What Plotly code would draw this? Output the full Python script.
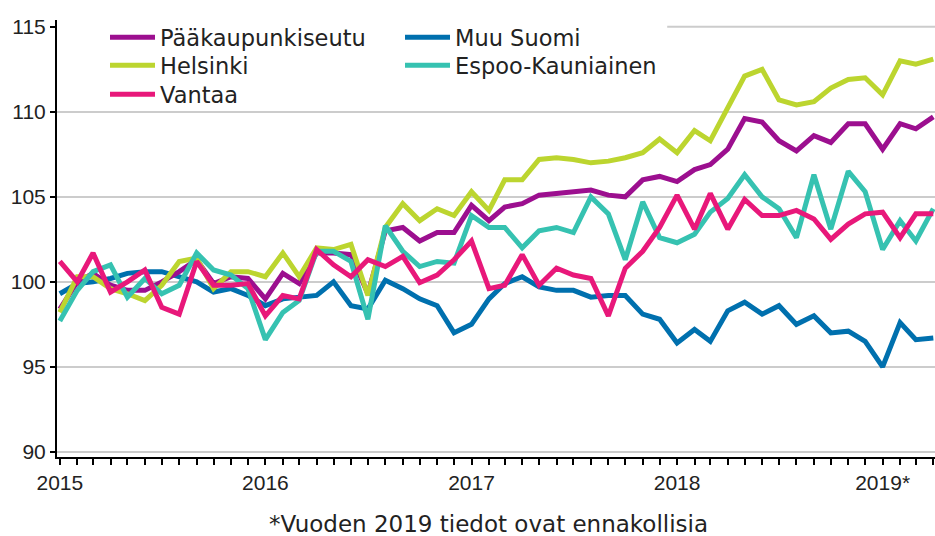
import plotly.graph_objects as go

months = [f"{y}-{m:02d}-01" for y in range(2015, 2020) for m in range(1, 13)][:52]

year_ticks = ["2015-01-01", "2016-01-01", "2017-01-01", "2018-01-01", "2019-01-01"]
year_labels = ["2015", "2016", "2017", "2018", "2019*"]
y_ticks = [90, 95, 100, 105, 110, 115]

paakaupunkiseutu = [98.4, 100.0, 100.5, 99.8, 99.5, 99.5, 100.0, 100.6, 101.3, 99.9, 100.3, 100.2,
                    99.0, 100.5, 99.9, 101.7, 101.7, 101.6, 99.3, 103.0, 103.2, 102.4, 102.9, 102.9,
                    104.5, 103.6, 104.4, 104.6, 105.1, 105.2, 105.25, 105.4, 105.1, 105.0, 106.0, 106.2,
                    105.9, 106.6, 106.9, 107.8, 109.6, 109.4, 108.3, 107.7, 108.6, 108.2, 109.3, 109.3,
                    107.8, 109.3, 109.0, 109.7]
helsinki = [98.2, 100.3, 100.3, 99.6, 99.3, 98.9, 99.8, 101.2, 101.4, 99.6, 100.6, 100.6,
            100.3, 101.7, 100.3, 102.0, 101.9, 102.2, 99.2, 103.2, 104.6, 103.6, 104.3, 103.9,
            105.3, 104.2, 106.0, 106.0, 107.2, 107.3, 107.2, 107.0, 107.1, 107.3, 107.6, 108.4,
            107.6, 108.9, 108.3, 110.3, 112.1, 112.5, 110.7, 110.4, 110.6, 111.4, 111.9, 112.0,
            111.0, 113.0, 112.8, 113.1]
vantaa = [101.2, 100.0, 101.7, 99.4, 100.0, 100.7, 98.5, 98.1, 101.2, 99.8, 99.8, 99.9,
          98.0, 99.2, 99.0, 101.9, 101.0, 100.3, 101.3, 100.9, 101.5, 99.95, 100.4, 101.3,
          102.4, 99.6, 99.8, 101.6, 99.8, 100.8, 100.4, 100.2, 98.0, 100.8, 101.8, 103.2,
          105.1, 103.1, 105.2, 103.1, 104.85, 103.9, 103.9, 104.2, 103.7, 102.5, 103.4, 104.0,
          104.1, 102.6, 104.0, 104.0]
muu_suomi = [99.3, 99.9, 100.0, 100.2, 100.5, 100.6, 100.6, 100.3, 100.0, 99.4, 99.6, 99.2,
             98.6, 99.0, 99.1, 99.2, 100.0, 98.6, 98.4, 100.1, 99.6, 99.0, 98.6, 97.0,
             97.5, 99.0, 99.9, 100.3, 99.7, 99.5, 99.5, 99.1, 99.2, 99.2, 98.1, 97.8,
             96.4, 97.2, 96.5, 98.3, 98.8, 98.1, 98.6, 97.5, 98.0, 97.0, 97.1, 96.5,
             95.0, 97.6, 96.6, 96.7]
espoo_kauniainen = [97.7, 99.5, 100.6, 101.0, 99.1, 100.2, 99.3, 99.8, 101.7, 100.7, 100.4, 99.6,
                    96.6, 98.2, 98.9, 101.8, 101.8, 101.2, 97.8, 103.3, 101.8, 100.9, 101.2, 101.1,
                    103.9, 103.2, 103.2, 102.0, 103.0, 103.2, 102.9, 105.0, 104.0, 101.3, 104.7, 102.6,
                    102.3, 102.8, 104.1, 104.9, 106.3, 105.0, 104.3, 102.6, 106.3, 103.1, 106.5, 105.3,
                    101.9, 103.6, 102.4, 104.3]

# (name, values, colour, legend id); drawing order = list order
series = [
    ("Muu Suomi", muu_suomi, "#0070ae", "legend2"),
    ("Pääkaupunkiseutu", paakaupunkiseutu, "#9c0f8f", "legend"),
    ("Helsinki", helsinki, "#bcd52f", "legend3"),
    ("Espoo-Kauniainen", espoo_kauniainen, "#36c2b1", "legend4"),
    ("Vantaa", vantaa, "#e8187a", "legend5"),
]

fig = go.Figure()
for name, vals, color, leg in series:
    fig.add_trace(go.Scatter(x=months, y=vals, name=name, mode="lines",
                             line=dict(color=color, width=5), legend=leg))

tickfont = dict(family="Liberation Sans, Arial, sans-serif", size=21, color="#222222")
legfont = dict(family="DejaVu Sans, sans-serif", size=22.5, color="#222222")


def leg(x, y):
    return dict(orientation="v", x=x, xanchor="left", y=y, yanchor="top",
                bgcolor="rgba(0,0,0,0)", borderwidth=0, itemwidth=45, indentation=48,
                font=legfont)


row_y = [1.009, 0.945, 0.8787]
fig.update_layout(
    width=935, height=536,
    margin=dict(l=57, r=0, t=20, b=79),
    plot_bgcolor="white", paper_bgcolor="white",
    showlegend=True,
    legend=leg(0, row_y[0]),
    legend2=leg(0.336, row_y[0]),
    legend3=leg(0, row_y[1]),
    legend4=leg(0.336, row_y[1]),
    legend5=leg(0, row_y[2]),
    xaxis=dict(type="date", range=["2014-12-27", "2019-04-04"],
               tickmode="array", tickvals=year_ticks, ticktext=year_labels,
               ticks="outside", ticklen=6, tickwidth=1.5, tickcolor="black",
               showline=True, linecolor="black", linewidth=2, showgrid=False,
               zeroline=False, tickfont=tickfont,
               minor=dict(dtick="M1", tick0="2015-01-01", ticks="outside", ticklen=6,
                          tickwidth=1.5, tickcolor="black", showgrid=False)),
    yaxis=dict(range=[89.7, 115.4], tickmode="array", tickvals=y_ticks,
               ticks="outside", ticklen=5, tickwidth=1.5, tickcolor="black",
               showline=True, linecolor="black", linewidth=2,
               showgrid=False, zeroline=False, tickfont=tickfont,
               minor=dict(tickvals=y_ticks[:-1], ticks="", showgrid=True,
                          gridcolor="#cccccc", gridwidth=2)),
    shapes=[dict(type="line", xref="paper", yref="y", x0=0.695, x1=1,
                 y0=y_ticks[-1], y1=y_ticks[-1], layer="below",
                 line=dict(color="#cccccc", width=2))],
    annotations=[dict(text="*Vuoden 2019 tiedot ovat ennakollisia", xref="paper", yref="paper",
                      x=0.492, y=-0.1522, xanchor="center", yanchor="middle", showarrow=False,
                      height=20, borderpad=0, valign="middle",
                      font=dict(family="DejaVu Sans, sans-serif", size=23, color="#222222"))],
)

fig.write_html("out.html")
